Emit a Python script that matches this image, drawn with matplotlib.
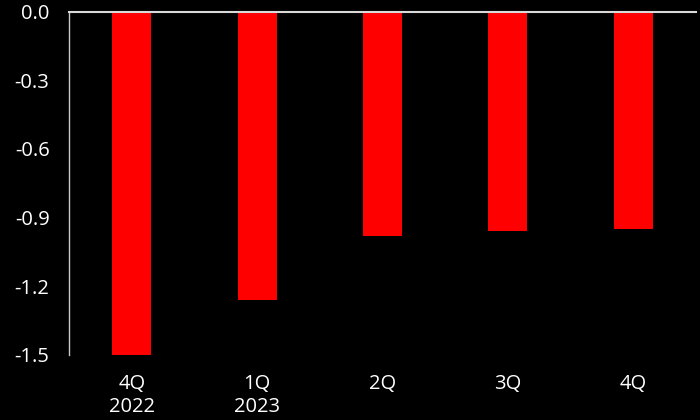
import matplotlib
matplotlib.use('Agg')
import matplotlib.pyplot as plt

categories = ['4Q\n2022', '1Q\n2023', '2Q', '3Q', '4Q']
values = [-1.50, -1.26, -0.98, -0.96, -0.95]
yticks = [0.0, -0.3, -0.6, -0.9, -1.2, -1.5]

plt.rcParams['font.family'] = ['Open Sans', 'DejaVu Sans']

fig = plt.figure(figsize=(7, 4.2), dpi=100, facecolor='black')
ax = fig.add_axes([69/700, 1 - 355/420, (696 - 69)/700, (355 - 11.5)/420])
ax.set_facecolor('black')

x = range(len(categories))
ax.bar(x, values, width=0.31, color='#ff0000', zorder=2)

ax.set_xlim(-0.5, len(categories) - 0.5)
ax.set_ylim(-1.5, 0)
ax.set_yticks(yticks)
ax.set_yticklabels(['%.1f' % v for v in yticks])
ax.set_xticks(list(x))
ax.set_xticklabels(categories, linespacing=1.2)

ax.tick_params(axis='both', colors='white', labelsize=14.5, length=0)
ax.tick_params(axis='y', pad=14)
ax.tick_params(axis='x', pad=14)

for side in ['right', 'bottom']:
    ax.spines[side].set_visible(False)
ax.spines['left'].set_color('#c8c8c8')
ax.spines['left'].set_linewidth(1)
ax.spines['top'].set_color('#d9d9d9')
ax.spines['top'].set_linewidth(1.5)
ax.spines['top'].set_zorder(3)

fig.savefig('out.png', dpi=100, facecolor='black')
